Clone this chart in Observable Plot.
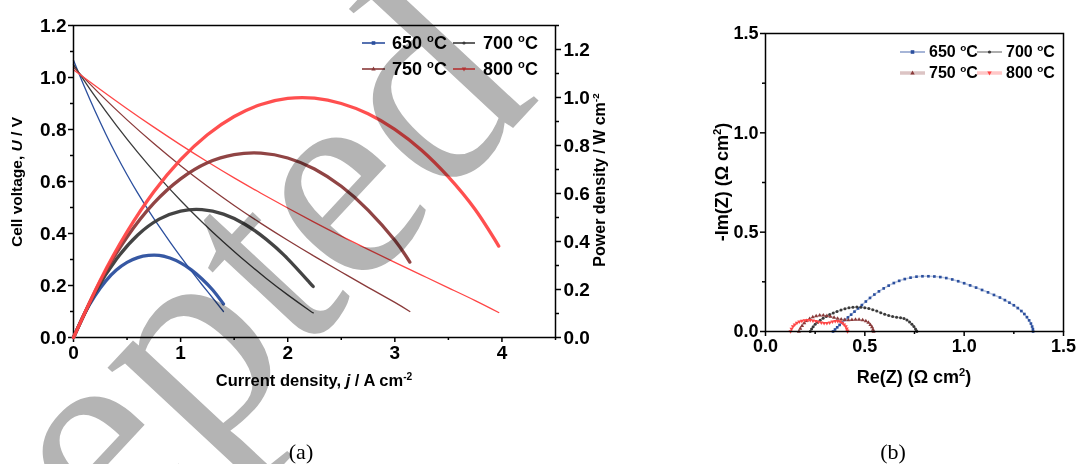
<!DOCTYPE html>
<html><head><meta charset="utf-8">
<script src="https://cdn.jsdelivr.net/npm/d3@7"></script>
<script src="https://cdn.jsdelivr.net/npm/@observablehq/plot@0.6"></script>
<style>
body{margin:0;background:#fff;}
#wrap{position:relative;width:1076px;height:464px;overflow:hidden;background:#fff;font-family:"Liberation Sans",Arial,sans-serif;}
#wrap > svg, #wrap > div{position:absolute;}
.lab{font-weight:bold;white-space:nowrap;color:#000;line-height:1;}
.rot{transform:translate(-50%,-50%) rotate(-90deg);}
.ctr{transform:translate(-50%,-50%);}
.lft{transform:translate(0,-50%);}
sup{font-size:0.62em;vertical-align:0;position:relative;top:-0.6em;}
.cap{font-family:"Liberation Serif","DejaVu Serif",serif;font-size:22px;color:#000;line-height:1;transform:translate(-50%,-50%);}
</style></head><body><div id="wrap"></div>
<script>
// ---------- data: panel (a) ----------
const temps = ["650 °C", "700 °C", "750 °C", "800 °C"];
const lineColors = ["#2b4f9e", "#3a3a3a", "#8a3a3a", "#ff4646"];

const j650 = [0, 0.1, 0.2, 0.3, 0.4, 0.5, 0.6, 0.7, 0.8, 0.9, 1.0, 1.1, 1.2, 1.3, 1.4];
const U650 = [1.066, 0.966, 0.872, 0.784, 0.702, 0.626, 0.555, 0.489, 0.427, 0.368, 0.311, 0.256, 0.203, 0.152, 0.100];
const P650 = [0, 0.097, 0.174, 0.235, 0.281, 0.313, 0.333, 0.342, 0.342, 0.331, 0.311, 0.282, 0.244, 0.198, 0.140];

const j700 = [0, 0.2, 0.4, 0.6, 0.8, 1.0, 1.2, 1.4, 1.6, 1.8, 2.0, 2.2, 2.237];
const U700 = [1.050, 0.928, 0.816, 0.712, 0.616, 0.527, 0.444, 0.367, 0.295, 0.227, 0.164, 0.105, 0.095];
const P700 = [0, 0.186, 0.326, 0.427, 0.493, 0.527, 0.533, 0.514, 0.472, 0.409, 0.328, 0.231, 0.213];

const j750 = [0, 0.25, 0.5, 0.75, 1.0, 1.25, 1.5, 1.75, 2.0, 2.25, 2.5, 2.75, 3.0, 3.14];
const U750 = [1.040, 0.935, 0.837, 0.746, 0.661, 0.582, 0.508, 0.439, 0.374, 0.312, 0.252, 0.193, 0.135, 0.100];
const P750 = [0, 0.234, 0.419, 0.560, 0.661, 0.728, 0.762, 0.768, 0.748, 0.702, 0.630, 0.531, 0.405, 0.314];

const j800 = [0, 0.25, 0.5, 0.75, 1.0, 1.25, 1.5, 1.75, 2.0, 2.25, 2.5, 2.75, 3.0, 3.25, 3.5, 3.75, 3.97];
const U800 = [1.030, 0.954, 0.880, 0.809, 0.741, 0.676, 0.614, 0.555, 0.498, 0.443, 0.390, 0.339, 0.289, 0.240, 0.191, 0.142, 0.096];
const P800 = [0, 0.239, 0.440, 0.607, 0.741, 0.845, 0.921, 0.971, 0.996, 0.997, 0.975, 0.932, 0.867, 0.780, 0.669, 0.533, 0.381];

const xTicksA = [0, 1, 2, 3, 4];
const yTicksA = [0, 0.2, 0.4, 0.6, 0.8, 1.0, 1.2];
const pTicksA = [0, 0.2, 0.4, 0.6, 0.8, 1.0, 1.2];

// ---------- data: panel (b) ----------
const re650 = [0.340,0.350,0.361,0.373,0.386,0.400,0.415,0.431,0.448,0.466,0.485,0.505,0.526,0.548,0.571,0.595,0.620,0.646,0.673,0.701,0.730,0.760,0.790,0.820,0.850,0.880,0.910,0.940,0.970,1.000,1.030,1.060,1.090,1.120,1.150,1.180,1.205,1.228,1.250,1.270,1.288,1.303,1.316,1.327,1.336,1.342,1.346,1.347];
const im650 = [0.000,0.010,0.021,0.033,0.045,0.058,0.071,0.085,0.100,0.116,0.133,0.151,0.169,0.186,0.202,0.217,0.231,0.244,0.255,0.264,0.271,0.276,0.278,0.278,0.277,0.274,0.269,0.262,0.253,0.243,0.232,0.221,0.209,0.197,0.184,0.171,0.158,0.145,0.132,0.118,0.103,0.088,0.072,0.056,0.040,0.025,0.012,0.000];

const re700 = [0.225,0.232,0.240,0.250,0.262,0.275,0.290,0.306,0.323,0.341,0.360,0.380,0.400,0.420,0.440,0.460,0.480,0.500,0.520,0.540,0.560,0.580,0.600,0.620,0.640,0.660,0.680,0.697,0.712,0.725,0.737,0.747,0.755,0.760,0.762];
const im700 = [0.000,0.012,0.024,0.036,0.047,0.057,0.067,0.076,0.085,0.093,0.101,0.108,0.114,0.119,0.122,0.123,0.122,0.120,0.116,0.110,0.103,0.095,0.087,0.080,0.075,0.072,0.069,0.065,0.058,0.048,0.037,0.025,0.013,0.004,0.000];

const re750 = [0.168,0.175,0.184,0.195,0.208,0.222,0.238,0.255,0.273,0.291,0.309,0.327,0.345,0.363,0.381,0.399,0.417,0.435,0.453,0.471,0.489,0.505,0.518,0.528,0.536,0.541,0.544];
const im750 = [0.000,0.015,0.029,0.042,0.054,0.064,0.072,0.078,0.081,0.081,0.079,0.075,0.070,0.065,0.061,0.059,0.058,0.059,0.060,0.060,0.058,0.053,0.045,0.034,0.022,0.010,0.000];

const re800 = [0.126,0.131,0.138,0.147,0.158,0.170,0.183,0.197,0.211,0.225,0.239,0.253,0.267,0.281,0.295,0.309,0.323,0.337,0.351,0.364,0.376,0.387,0.396,0.404,0.409,0.412,0.413];
const im800 = [0.000,0.013,0.025,0.035,0.043,0.049,0.053,0.056,0.057,0.057,0.055,0.052,0.048,0.044,0.042,0.042,0.045,0.049,0.052,0.052,0.049,0.043,0.035,0.025,0.014,0.004,0.000];

const ticksB = [0, 0.5, 1.0, 1.5];
const minorB = [0.25, 0.75, 1.25];

// ---------- tables ----------
const ivSets = [[j650,U650,P650],[j700,U700,P700],[j750,U750,P750],[j800,U800,P800]];
const iv = ivSets.flatMap(([j,U,P],k) => j.map((v,i) => ({series: temps[k], j: v, U: U[i], P: P[i]})));
const nySets = [[re650,im650],[re700,im700],[re750,im750],[re800,im800]];
const ny = nySets.flatMap(([re,im],k) => re.map((v,i) => ({series: temps[k], re: v, im: im[i]})));

const fontA = "background:transparent;overflow:visible;font-family:'Liberation Sans',Arial,sans-serif;font-size:19px;font-weight:bold;color:#000;";
const fontB = "background:transparent;overflow:visible;font-family:'Liberation Sans',Arial,sans-serif;font-size:18px;font-weight:bold;color:#000;";
const f1 = d3.format(".1f");
const none = () => "";

const geomA = {width: 640, height: 400, marginLeft: 73, marginRight: 85, marginTop: 25, marginBottom: 63};

const plotU = Plot.plot({
  ...geomA, style: fontA,
  x: {domain: [0, 4.5]},
  y: {domain: [0, 1.2]},
  color: {domain: temps, range: lineColors},
  marks: [
    Plot.axisX({ticks: xTicksA, tickSize: 5, tickPadding: 3, tickFormat: d3.format("d"), strokeWidth: 1.5, label: null}),
    Plot.axisX({ticks: [0.5, 1.5, 2.5, 3.5, 4.5], tickSize: 3, tickFormat: none, strokeWidth: 1.5, label: null}),
    Plot.axisY({ticks: yTicksA, tickSize: 5, tickPadding: 2, tickFormat: f1, strokeWidth: 1.5, label: null}),
    Plot.axisY({ticks: [0.1, 0.3, 0.5, 0.7, 0.9, 1.1], tickSize: 3, tickFormat: none, strokeWidth: 1.5, label: null}),
    Plot.line(iv, {x: "j", y: "U", z: "series", stroke: "series", strokeWidth: 1.3, curve: "natural"}),
    Plot.frame({stroke: "#000", strokeWidth: 1.5})
  ]
});

const plotP = Plot.plot({
  ...geomA, style: fontA,
  x: {domain: [0, 4.5], axis: null},
  y: {domain: [0, 1.3]},
  color: {domain: temps, range: lineColors},
  marks: [
    Plot.axisY({anchor: "right", ticks: pTicksA, tickSize: 5, tickPadding: 3, tickFormat: f1, strokeWidth: 1.5, label: null}),
    Plot.axisY({anchor: "right", ticks: [0.1, 0.3, 0.5, 0.7, 0.9, 1.1, 1.3], tickSize: 3, tickFormat: none, strokeWidth: 1.5, label: null}),
    Plot.line(iv, {x: "j", y: "P", z: "series", stroke: "series", strokeWidth: 3.3, curve: "natural", strokeOpacity: 0.95})
  ]
});

const plotN = Plot.plot({
  width: 396, height: 400, marginLeft: 85, marginRight: 13, marginTop: 33, marginBottom: 69,
  style: fontB,
  x: {domain: [0, 1.5]},
  y: {domain: [0, 1.5]},
  color: {domain: temps, range: lineColors},
  symbol: {domain: temps, range: ["square", "circle", "triangle", "triangle"]},
  marks: [
    Plot.axisX({ticks: ticksB, tickSize: 5, tickPadding: 3, tickFormat: f1, strokeWidth: 1.5, label: null}),
    Plot.axisX({ticks: minorB, tickSize: 3, tickFormat: none, strokeWidth: 1.5, label: null}),
    Plot.axisY({ticks: ticksB, tickSize: 5, tickPadding: 2, tickFormat: f1, strokeWidth: 1.5, label: null}),
    Plot.axisY({ticks: minorB, tickSize: 3, tickFormat: none, strokeWidth: 1.5, label: null}),
    Plot.line(ny, {x: "re", y: "im", z: "series", stroke: "series", strokeWidth: 1.6, strokeOpacity: 0.3}),
    Plot.dot(ny, {x: "re", y: "im", fill: "series", symbol: "series", r: 1.5, stroke: null,
                  rotate: d => d.series === temps[3] ? 180 : 0}),
    Plot.frame({stroke: "#000", strokeWidth: 1.5})
  ]
});

const wrap = document.getElementById("wrap");
function place(el, x, y) { el.style.left = x + "px"; el.style.top = y + "px"; wrap.appendChild(el); return el; }
place(plotU, 0, 0);
place(plotP, 0, 0);
place(plotN, 680, 0);

function label(html, x, y, size, cls) {
  const d = document.createElement("div");
  d.className = "lab " + cls;
  d.style.fontSize = size + "px";
  d.innerHTML = html;
  return place(d, x, y);
}
// axis titles
label("Cell voltage, <i>U</i> / V", 17, 182, 15.5, "rot");
label("Current density, <i>j</i> / A cm<sup>-2</sup>", 314, 380, 16.5, "ctr");
label("Power density / W cm<sup>-2</sup>", 600, 180, 16, "rot");
label("-Im(Z) (Ω cm<sup>2</sup>)", 722, 182, 18, "rot");
label("Re(Z) (Ω cm<sup>2</sup>)", 914, 377, 18, "ctr");

// legends
function legendEntry(k, x0, x1, tx, y, size, opts) {
  const w = x1 - x0;
  const s = d3.create("svg").attr("width", w).attr("height", 12);
  s.append("line").attr("x1", 0).attr("x2", w).attr("y1", 6).attr("y2", 6)
    .attr("stroke", lineColors[k]).attr("stroke-width", opts.sw[k]).attr("stroke-opacity", opts.so[k]);
  const m = opts.marker[k];
  if (m === "square") s.append("rect").attr("x", w/2-1.8).attr("y", 4.2).attr("width", 3.6).attr("height", 3.6).attr("fill", lineColors[k]);
  else if (m === "circle") s.append("circle").attr("cx", w/2).attr("cy", 6).attr("r", 1.6).attr("fill", lineColors[k]);
  else if (m === "up") s.append("path").attr("d", `M${w/2},3.6L${w/2+2.2},7.4L${w/2-2.2},7.4Z`).attr("fill", lineColors[k]);
  else if (m === "down") s.append("path").attr("d", `M${w/2},8.4L${w/2+2.2},4.6L${w/2-2.2},4.6Z`).attr("fill", lineColors[k]);
  place(s.node(), x0, y - 6);
  label(temps[k].replace("°C", "<sup>o</sup>C"), tx, y, size, "lft");
}
const legA = {sw: [1.6, 1.6, 1.6, 1.6], so: [1, 1, 1, 1], marker: ["square", "circle", "up", "down"]};
legendEntry(0, 362, 385, 392, 43, 18, legA);
legendEntry(1, 453, 475, 483, 43, 18, legA);
legendEntry(2, 362, 385, 392, 69, 18, legA);
legendEntry(3, 453, 475, 483, 69, 18, legA);
const legB = {sw: [1.2, 1.2, 3.5, 3.5], so: [0.7, 0.7, 0.3, 0.3], marker: ["square", "circle", "up", "down"]};
legendEntry(0, 900, 925, 929, 52, 16, legB);
legendEntry(1, 977, 1002, 1006, 52, 16, legB);
legendEntry(2, 900, 925, 929, 73, 16, legB);
legendEntry(3, 977, 1002, 1006, 73, 16, legB);

// captions
function caption(t, x, y) { const d = document.createElement("div"); d.className = "cap"; d.textContent = t; place(d, x, y); }
caption("(a)", 301, 452);
caption("(b)", 893, 452);

// watermark
const wm = d3.create("svg").attr("width", 1076).attr("height", 464)
  .style("mix-blend-mode", "multiply").style("pointer-events", "none");
wm.append("text").attr("x", 541).attr("y", 98).attr("text-anchor", "end")
  .attr("transform", "rotate(-47 541 98)")
  .attr("font-family", "'Liberation Serif','DejaVu Serif',serif").attr("font-size", 290)
  .attr("fill", "#b4b4b4").text("Accepted");
place(wm.node(), 0, 0);
</script></body></html>
